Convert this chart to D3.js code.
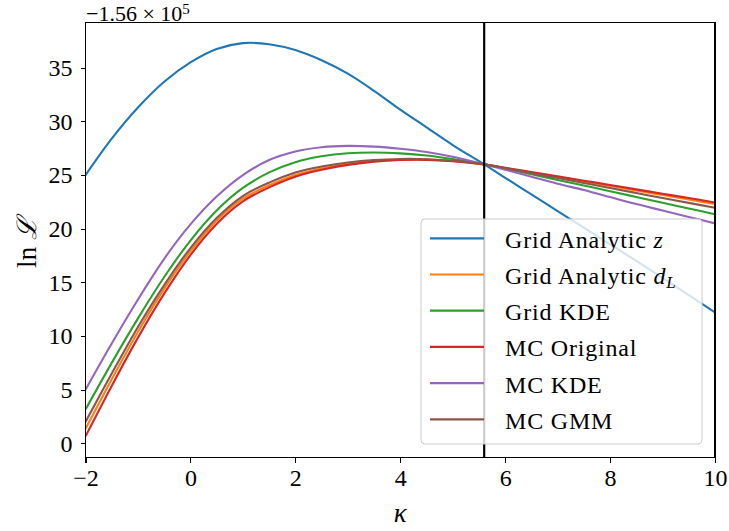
<!DOCTYPE html>
<meta charset="utf-8">
<style>
body { margin: 0; background: #fff; }
svg text { font-family: 'Liberation Serif', 'DejaVu Serif', serif; fill: #000; }
.axis path { display: none; }
.axis line { stroke: #000; stroke-width: 1.1px; shape-rendering: crispEdges; }
.frame { fill: none; stroke: #000; stroke-width: 1.1px; shape-rendering: crispEdges; }
.data-line { fill: none; stroke-width: 2.1px; }
.legend-box { fill: #fff; fill-opacity: 0.8; stroke: #cccccc; stroke-width: 1px; }
</style>
<body>
<svg width="729" height="531"></svg>
<script src="https://d3js.org/d3.v7.min.js"></script>
<script>
// kappa grid (x values)
var kappa = [-2, -1.5, -1, -0.5, 0, 0.5, 1, 1.5, 2, 2.5, 3, 3.5, 4, 4.5, 5, 5.6, 6, 6.5, 7, 7.5, 8, 8.5, 9, 9.5, 10];

// ln L + 1.56e5 for each method
var gridAnalyticZ  = [25.0, 28.4, 31.3, 33.7, 35.5, 36.75, 37.3, 37.2, 36.65, 35.7, 34.45, 32.85, 31.1, 29.45, 27.8, 26.0, 24.75, 23.2, 21.65, 20.1, 18.55, 17.0, 15.42, 13.82, 12.2];
var gridAnalyticDL = [1.35, 5.97, 10.4, 14.4, 17.9, 20.75, 22.8, 24.05, 25.0, 25.61, 26.03, 26.3, 26.43, 26.44, 26.31, 26.0, 25.66, 25.24, 24.82, 24.4, 23.99, 23.56, 23.14, 22.72, 22.3];
var gridKDE        = [3.15, 7.5, 11.65, 15.5, 18.9, 21.7, 23.8, 25.25, 26.2, 26.75, 27.03, 27.1, 27.02, 26.83, 26.5, 26.0, 25.6, 25.08, 24.55, 24.02, 23.5, 22.96, 22.42, 21.89, 21.35];
var mcOriginal     = [0.65, 5.35, 9.85, 13.95, 17.55, 20.45, 22.55, 23.85, 24.85, 25.5, 25.95, 26.25, 26.4, 26.42, 26.3, 26.0, 25.68, 25.28, 24.88, 24.48, 24.08, 23.67, 23.26, 22.86, 22.45];
var mcKDE          = [5.0, 9.3, 13.4, 17.2, 20.4, 23.0, 25.0, 26.4, 27.2, 27.6, 27.72, 27.65, 27.45, 27.15, 26.7, 26.0, 25.5, 24.85, 24.2, 23.6, 22.95, 22.3, 21.7, 21.1, 20.5];
var mcGMM          = [2.0, 6.5, 10.85, 14.75, 18.2, 21.0, 23.05, 24.3, 25.25, 25.8, 26.17, 26.4, 26.5, 26.48, 26.33, 26.0, 25.63, 25.18, 24.72, 24.26, 23.8, 23.33, 22.86, 22.41, 21.95];

var seriesNames = ["Grid Analytic", "Grid Analytic", "Grid KDE", "MC Original", "MC KDE", "MC GMM"];
var seriesColors = ["#1f77b4", "#ff7f0e", "#2ca02c", "#d62728", "#9467bd", "#8c564b"];
var seriesValues = [gridAnalyticZ, gridAnalyticDL, gridKDE, mcOriginal, mcKDE, mcGMM];

var xTicks = [-2, 0, 2, 4, 6, 8, 10];
var yTicks = [0, 5, 10, 15, 20, 25, 30, 35];
var kappaTrue = 5.6;

var svg = d3.select("svg"),
    margin = {top: 22.5, right: 14, bottom: 73.5, left: 85.5},
    width = +svg.attr("width") - margin.left - margin.right,
    height = +svg.attr("height") - margin.top - margin.bottom;

var x = d3.scaleLinear().domain([-2, 10]).range([0, width]);
var y = d3.scaleLinear().domain([-1.32, 39.22]).range([height, 0]);

var g = svg.append("g")
    .attr("transform", "translate(" + margin.left + "," + margin.top + ")");

g.append("clipPath").attr("id", "plot-clip")
  .append("rect").attr("width", width).attr("height", height);

var line = d3.line().curve(d3.curveCatmullRom.alpha(0.5))
    .x(function(d) { return x(d[0]); })
    .y(function(d) { return y(d[1]); });

// data lines
var lines = g.append("g").attr("clip-path", "url(#plot-clip)");
seriesValues.forEach(function(vals, i) {
  lines.append("path")
      .datum(kappa.map(function(k, j) { return [k, vals[j]]; }))
      .attr("class", "data-line")
      .attr("stroke", seriesColors[i])
      .attr("d", line);
});

// vertical marker
g.append("line")
    .attr("x1", x(kappaTrue)).attr("x2", x(kappaTrue))
    .attr("y1", 0).attr("y2", height)
    .attr("stroke", "#000").attr("stroke-width", 2.2);

// axes
var xAxis = g.append("g")
    .attr("class", "axis")
    .attr("transform", "translate(0," + height + ")")
    .call(d3.axisBottom(x).tickValues(xTicks).tickSize(5).tickPadding(6)
      .tickFormat(function(d) { return d < 0 ? "\u2212" + (-d) : d; }));
xAxis.selectAll("text").attr("font-size", 24).attr("font-family", null);

var yAxis = g.append("g")
    .attr("class", "axis")
    .call(d3.axisLeft(y).tickValues(yTicks).tickSize(5).tickPadding(8));
yAxis.selectAll("text").attr("font-size", 24).attr("font-family", null);

g.append("rect").attr("class", "frame")
    .attr("width", width).attr("height", height);

// offset label
var off = svg.append("text")
    .attr("x", 86).attr("y", 20.5)
    .attr("font-size", 22);
off.append("tspan").text("\u22121.56 \u00d7 10");
off.append("tspan").attr("font-size", 15).attr("dy", -7).text("5");

// axis titles
svg.append("text")
    .attr("transform", "translate(36," + 243 + ") rotate(-90)")
    .attr("text-anchor", "middle")
    .attr("font-size", 27)
    .html('ln <tspan font-style="italic">\u2112</tspan>');

svg.append("text")
    .attr("x", x(4) + margin.left).attr("y", 522)
    .attr("text-anchor", "middle")
    .attr("font-size", 27)
    .attr("font-style", "italic")
    .text("\u03ba");

// legend
var legend = svg.append("g").attr("transform", "translate(421,219)");
legend.append("rect").attr("class", "legend-box")
    .attr("width", 281).attr("height", 225).attr("rx", 4).attr("ry", 4);

var rows = legend.selectAll(".row")
    .data(seriesNames)
  .enter().append("g")
    .attr("class", "row")
    .attr("transform", function(d, i) { return "translate(0," + (19.3 + i * 36.2) + ")"; });

rows.append("line")
    .attr("x1", 9).attr("x2", 63)
    .attr("stroke", function(d, i) { return seriesColors[i]; })
    .attr("stroke-width", 2.2);

var labels = rows.append("text")
    .attr("x", 84).attr("y", 9.5)
    .attr("font-size", 24)
    .attr("letter-spacing", 0.8)
    .text(function(d) { return d; });

labels.filter(function(d, i) { return i === 0; })
  .append("tspan").attr("font-style", "italic").text(" z");
var dl = labels.filter(function(d, i) { return i === 1; });
dl.append("tspan").attr("font-style", "italic").text(" d");
dl.append("tspan").attr("font-style", "italic").attr("font-size", 17).attr("dy", 4).text("L");
</script>
